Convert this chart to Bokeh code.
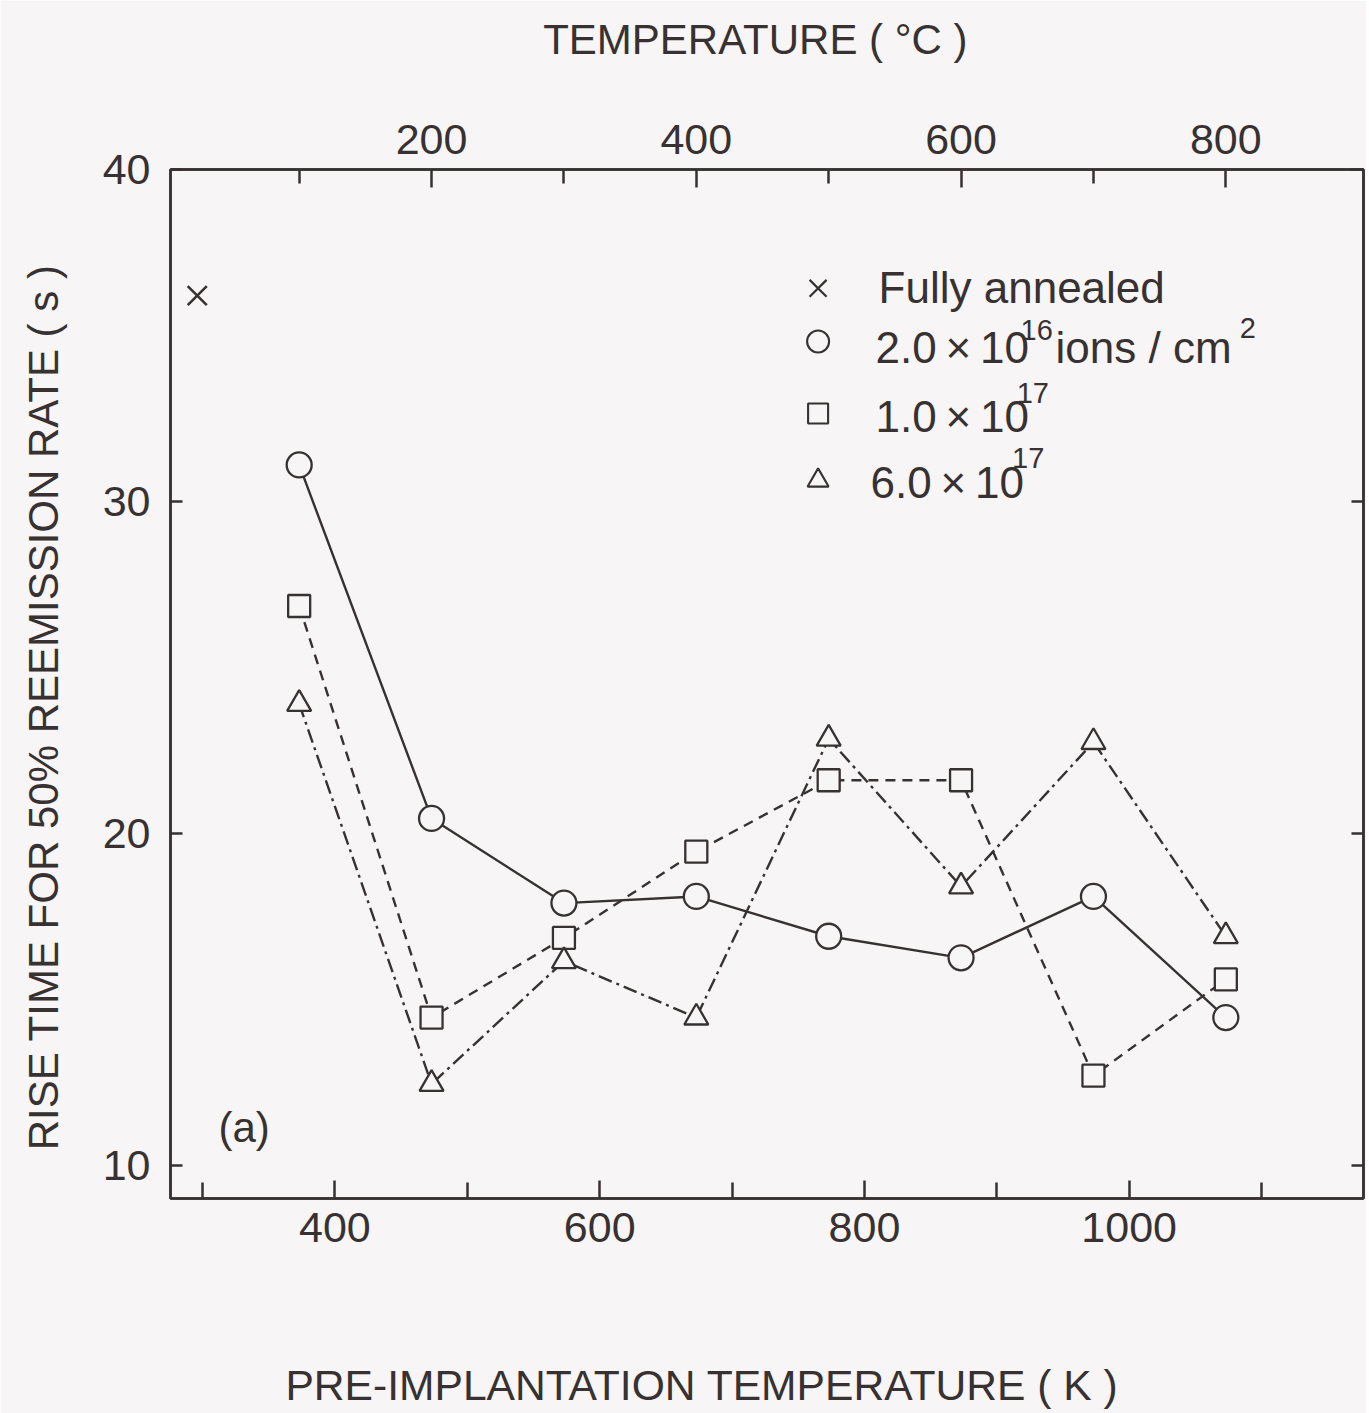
from bokeh.plotting import figure
from bokeh.models import Range1d, LinearAxis, FixedTicker, Label
from bokeh.embed import file_html
from bokeh.resources import INLINE

# ---- data ----
temp_k = [373, 473, 573, 673, 773, 873, 973, 1073]
rise_2e16 = [31.1, 20.45, 17.9, 18.1, 16.9, 16.25, 18.1, 14.45]
rise_1e17 = [26.85, 14.45, 16.85, 19.45, 21.6, 21.6, 12.7, 15.6]
rise_6e17 = [23.9, 12.45, 16.15, 14.45, 22.85, 18.4, 22.75, 16.9]
annealed_k = [296]
annealed_rise = [36.2]

k_ticks = [400, 600, 800, 1000]
k_minor = [300, 500, 700, 900, 1100]
c_ticks = [200, 400, 600, 800]
c_minor = [100, 300, 500, 700]
y_ticks = [10, 20, 30, 40]

INK = "#383131"
BG = "#f7f5f5"
FONT = "Liberation Sans"
NB = "\u00a0"
TS = "\u2009"

x0, x1 = 275.8, 1177.0
p = figure(width=1366, height=1413,
           x_range=Range1d(x0, x1), y_range=Range1d(9, 40),
           output_backend="svg", toolbar_location=None,
           min_border_left=170, min_border_top=169,
           min_border_right=3, min_border_bottom=215,
           background_fill_color=BG, border_fill_color=BG,
           outline_line_color=INK, outline_line_width=2.5)
p.extra_x_ranges = {"c": Range1d(x0 - 273, x1 - 273)}
p.xgrid.visible = False
p.ygrid.visible = False

def style_axis(ax, tick_len, minor_len, standoff):
    ax.axis_line_color = INK
    ax.axis_line_width = 2.5
    ax.major_tick_line_color = INK
    ax.major_tick_line_width = 2.5
    ax.minor_tick_line_color = INK
    ax.minor_tick_line_width = 2.5
    ax.major_tick_in = tick_len
    ax.major_tick_out = 0
    ax.minor_tick_in = minor_len
    ax.minor_tick_out = 0
    ax.major_label_text_font = FONT
    ax.major_label_text_font_size = "43px"
    ax.major_label_text_color = INK
    ax.major_label_standoff = standoff
    ax.axis_label_text_font = FONT
    ax.axis_label_text_font_size = "42px"
    ax.axis_label_text_font_style = "normal"
    ax.axis_label_text_color = INK

xb = p.xaxis[0]
xb.ticker = FixedTicker(ticks=k_ticks, minor_ticks=k_minor)
style_axis(xb, 18, 16, 14)
xb.axis_label = "PRE-IMPLANTATION TEMPERATURE ( K )" + NB * 11
xb.axis_label_text_font_size = "42.6px"
xb.axis_label_standoff = 116

yl = p.yaxis[0]
yl.ticker = FixedTicker(ticks=y_ticks)
style_axis(yl, 12, 0, 20)
yl.axis_label = "RISE TIME FOR 50% REEMISSION RATE ( s )" + NB * 4
yl.axis_label_standoff = 33

top = LinearAxis(x_range_name="c", ticker=FixedTicker(ticks=c_ticks, minor_ticks=c_minor))
style_axis(top, 18, 14, 16)
top.axis_label = "TEMPERATURE ( \u00b0C )" + NB * 2
top.axis_label_standoff = 59
p.add_layout(top, "above")

right = LinearAxis(ticker=FixedTicker(ticks=y_ticks))
style_axis(right, 12, 0, 0)
right.major_label_overrides = {t: "" for t in y_ticks}
p.add_layout(right, "right")

# ---- series ----
p.line(temp_k, rise_2e16, line_color=INK, line_width=2.4)
p.line(temp_k, rise_1e17, line_color=INK, line_width=2.4, line_dash="10 7")
p.line(temp_k, rise_6e17, line_color=INK, line_width=2.4, line_dash="14 5 3 5")

p.scatter(temp_k, rise_2e16, marker="circle", size=25, fill_color=BG,
          line_color=INK, line_width=2.3)
p.scatter(temp_k, rise_1e17, marker="square", size=22, fill_color=BG,
          line_color=INK, line_width=2.3)
p.scatter(temp_k, rise_6e17, marker="triangle", size=24, fill_color=BG,
          line_color=INK, line_width=2.3)
p.scatter(annealed_k, annealed_rise, marker="x", size=27, line_color=INK,
          line_width=2.6)

# ---- legend (manual, to allow superscripts) ----
p.scatter([765], [36.42], marker="x", size=24, line_color=INK, line_width=2.2)
p.scatter([765], [34.82], marker="circle", size=22, fill_color=BG, line_color=INK, line_width=2.1)
p.scatter([765], [32.65], marker="square", size=20, fill_color=BG, line_color=INK, line_width=2.1)
p.scatter([765], [30.63], marker="triangle", size=21, fill_color=BG, line_color=INK, line_width=2.1)

def lab(x, y, text, size="44px", align="left"):
    p.add_layout(Label(x=x, y=y, text=text, text_font=FONT, text_font_size=size,
                       text_color=INK, text_align=align, text_baseline="middle"))

lab(810.7, 36.45, "Fully annealed")
lab(808.4, 34.64, "2.0" + TS + "\u00d7" + TS + "10")
lab(917.9, 35.15, "16", size="29px")
lab(944.4, 34.64, "ions / cm")
lab(1083.5, 35.24, "2", size="29px")
lab(808.4, 32.56, "1.0" + TS + "\u00d7" + TS + "10")
lab(915.0, 33.28, "17", size="29px")
lab(804.6, 30.57, "6.0" + TS + "\u00d7" + TS + "10")
lab(911.5, 31.30, "17", size="29px")

lab(312, 11.15, "(a)", size="42px")

open("out.html", "w").write(file_html(p, INLINE))
